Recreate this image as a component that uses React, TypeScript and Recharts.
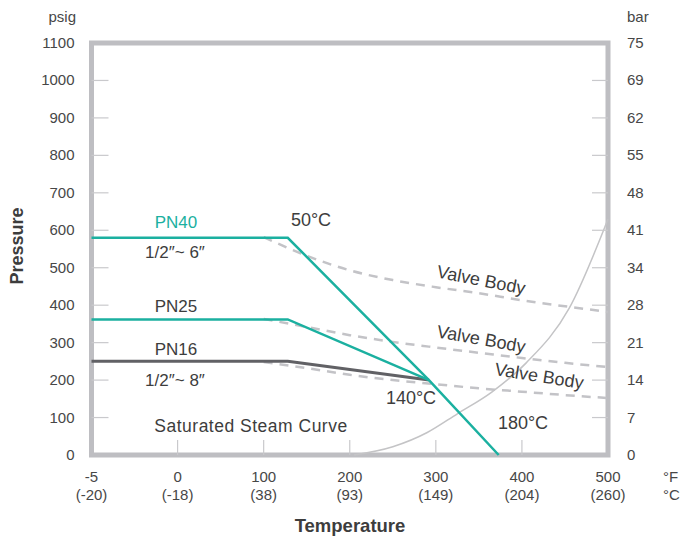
import { LineChart, Line, XAxis, YAxis, ReferenceArea } from "recharts";

// temperature axis (°F) and its °C sub-labels
const tempTicksF = [-5, 0, 100, 200, 300, 400, 500];
const tempTicksC = ["(-20)", "(-18)", "(38)", "(93)", "(149)", "(204)", "(260)"];
const psigTicks = [0, 100, 200, 300, 400, 500, 600, 700, 800, 900, 1000, 1100];
const barTicks = [0, 7, 14, 21, 28, 34, 41, 48, 55, 62, 69, 75];

// rating lines (°F, psig)
const pn40Temp = [-5, 128, 292, 373];
const pn40Psig = [580, 580, 200, 0];
const pn25Temp = [-5, 128, 292];
const pn25Psig = [362, 362, 200];
const pn16Temp = [-5, 128, 292];
const pn16Psig = [250, 250, 200];

// valve body limits (dashed)
const bodyTemp = [100, 150, 200, 250, 300, 350, 400, 450, 500];
const body40Psig = [582, 532, 493, 467, 448, 432, 413, 397, 382];
const body25Psig = [363, 342, 320, 302, 287, 273, 259, 246, 235];
const body16Psig = [248, 232, 214, 200, 189, 178, 169, 160, 152];

// saturated steam curve
const steamTemp = [205, 250, 290, 325, 365, 405, 455, 500];
const steamPsig = [0, 22, 60, 110, 168, 246, 392, 630];

// the -5 tick gets a full slot, the rest are evenly spaced by 100°F
const toPos = (f: number) => (f < 0 ? (f + 5) / 5 : 1 + f / 100);
const toPoints = (temps: number[], psig: number[]) =>
  temps.map((t, i) => ({ pos: toPos(t), p: psig[i] }));

const FONT = '"Liberation Sans", Arial, Helvetica, sans-serif';
const TEAL = "#1bb0a0";
const DARK = "#616165";
const DASH = "#c3c3c7";
const FRAME = "#bebec2";
const TICK = "#c9c9cc";
const TEXT = "#474747";

function LeftTick(props: any) {
  const { x, y, payload } = props;
  return (
    <g>
      {payload.value > 0 && payload.value < 1100 && (
        <line x1={x} x2={x + 17} y1={y} y2={y} stroke={TICK} strokeWidth={1.2} />
      )}
      <text x={x - 17} y={y} dy={5} textAnchor="end" fontSize={15} fill={TEXT} fontFamily={FONT}>
        {payload.value}
      </text>
    </g>
  );
}

function RightTick(props: any) {
  const { x, y, payload } = props;
  const i = psigTicks.indexOf(payload.value);
  return (
    <g>
      {i > 0 && i < psigTicks.length - 1 && (
        <line x1={x - 16} x2={x} y1={y} y2={y} stroke={TICK} strokeWidth={1.2} />
      )}
      <text x={x + 19} y={y} dy={5} textAnchor="start" fontSize={15} fill={TEXT} fontFamily={FONT}>
        {barTicks[i]}
      </text>
    </g>
  );
}

function BottomTick(props: any) {
  const { x, y, index } = props;
  return (
    <g>
      {index > 0 && index < tempTicksF.length - 1 && (
        <line x1={x} x2={x} y1={y} y2={y - 15} stroke={TICK} strokeWidth={1.2} />
      )}
      <text x={x} y={y + 27} textAnchor="middle" fontSize={15} fill={TEXT} fontFamily={FONT}>
        {tempTicksF[index]}
      </text>
      <text x={x} y={y + 45} textAnchor="middle" fontSize={15} fill={TEXT} fontFamily={FONT}>
        {tempTicksC[index]}
      </text>
    </g>
  );
}

function TopTick(props: any) {
  const { x, y, index } = props;
  if (index === 0 || index === tempTicksF.length - 1) return <g />;
  return <line x1={x} x2={x} y1={y} y2={y + 14} stroke={TICK} strokeWidth={1.2} />;
}

const labelStyle = { fontFamily: FONT, fontSize: 18, fill: "#3d3d3d" };

export default function App() {
  const xTicks = tempTicksF.map(toPos);
  const lines = [
    { key: "b40", data: toPoints(bodyTemp, body40Psig), color: DASH, width: 2.5, dash: "9 7", type: "monotone" },
    { key: "b25", data: toPoints(bodyTemp, body25Psig), color: DASH, width: 2.5, dash: "9 7", type: "monotone" },
    { key: "b16", data: toPoints(bodyTemp, body16Psig), color: DASH, width: 2.5, dash: "9 7", type: "monotone" },
    { key: "steam", data: toPoints(steamTemp, steamPsig), color: "#c4c4c6", width: 1.5, dash: undefined, type: "monotone" },
    { key: "pn16", data: toPoints(pn16Temp, pn16Psig), color: DARK, width: 3, dash: undefined, type: "linear" },
    { key: "pn25", data: toPoints(pn25Temp, pn25Psig), color: TEAL, width: 2.5, dash: undefined, type: "linear" },
    { key: "pn40", data: toPoints(pn40Temp, pn40Psig), color: TEAL, width: 2.5, dash: undefined, type: "linear" },
  ];

  return (
    <div style={{ position: "absolute", left: 0, top: 0, width: 683, height: 537, background: "#fff" }}>
      <LineChart width={683} height={537} margin={{ top: 43, right: 0, bottom: 0, left: 0 }}>
        <XAxis
          type="number"
          dataKey="pos"
          domain={[0, 6]}
          ticks={xTicks}
          height={82}
          axisLine={false}
          tickLine={false}
          tickSize={0}
          tickMargin={0}
          tick={(p: any) => <BottomTick {...p} />}
          interval={0}
        />
        <XAxis
          xAxisId="top"
          orientation="top"
          type="number"
          dataKey="pos"
          domain={[0, 6]}
          ticks={xTicks}
          height={0}
          axisLine={false}
          tickLine={false}
          tickSize={0}
          tickMargin={0}
          tick={(p: any) => <TopTick {...p} />}
          interval={0}
        />
        <YAxis
          yAxisId="psi"
          type="number"
          domain={[0, 1100]}
          ticks={psigTicks}
          width={91.5}
          axisLine={false}
          tickLine={false}
          tickSize={0}
          tickMargin={0}
          interval={0}
          tick={(p: any) => <LeftTick {...p} />}
        />
        <YAxis
          yAxisId="bar"
          orientation="right"
          type="number"
          domain={[0, 1100]}
          ticks={psigTicks}
          width={75}
          axisLine={false}
          tickLine={false}
          tickSize={0}
          tickMargin={0}
          interval={0}
          tick={(p: any) => <RightTick {...p} />}
        />
        {lines.map((l) => (
          <Line
            key={l.key}
            yAxisId="psi"
            data={l.data}
            dataKey="p"
            type={l.type as any}
            stroke={l.color}
            strokeWidth={l.width}
            strokeDasharray={l.dash}
            dot={false}
            activeDot={false}
            isAnimationActive={false}
          />
        ))}
        {/* same PN40 data on the bar axis, invisible, so the right axis renders */}
        <Line
          yAxisId="bar"
          data={toPoints(pn40Temp, pn40Psig)}
          dataKey="p"
          stroke="none"
          strokeWidth={0}
          dot={false}
          activeDot={false}
          isAnimationActive={false}
        />
        <ReferenceArea
          yAxisId="psi"
          x1={0}
          x2={6}
          y1={0}
          y2={1100}
          fill="none"
          fillOpacity={0}
          stroke={FRAME}
          strokeWidth={5}
          ifOverflow="visible"
        />
      </LineChart>

      <svg
        width={683}
        height={537}
        style={{ position: "absolute", left: 0, top: 0, pointerEvents: "none" }}
      >
        <text x={76} y={22} textAnchor="end" fontSize={15} fill={TEXT} fontFamily={FONT}>psig</text>
        <text x={627} y={22} fontSize={15} fill={TEXT} fontFamily={FONT}>bar</text>
        <text x={663} y={482} fontSize={15} fill={TEXT} fontFamily={FONT}>°F</text>
        <text x={663} y={500} fontSize={15} fill={TEXT} fontFamily={FONT}>°C</text>
        <text
          x={23}
          y={246}
          transform="rotate(-90 23 246)"
          textAnchor="middle"
          fontSize={18}
          fontWeight="bold"
          fill="#3d3d3d"
          fontFamily={FONT}
        >
          Pressure
        </text>
        <text x={350} y={532} textAnchor="middle" fontSize={18.5} fontWeight="bold" fill="#3d3d3d" fontFamily={FONT}>
          Temperature
        </text>

        <text x={176} y={228} textAnchor="middle" {...labelStyle} fontSize={17} fill={TEAL}>PN40</text>
        <text x={175} y={258} textAnchor="middle" {...labelStyle} fontSize={17}>1/2″~ 6″</text>
        <text x={176} y={312} textAnchor="middle" {...labelStyle} fontSize={17}>PN25</text>
        <text x={176} y={355} textAnchor="middle" {...labelStyle} fontSize={17}>PN16</text>
        <text x={175} y={386} textAnchor="middle" {...labelStyle} fontSize={17}>1/2″~ 8″</text>
        <text x={311} y={226} textAnchor="middle" {...labelStyle}>50°C</text>
        <text x={411} y={404} textAnchor="middle" {...labelStyle}>140°C</text>
        <text x={523} y={429} textAnchor="middle" {...labelStyle}>180°C</text>
        <text x={251} y={432} textAnchor="middle" {...labelStyle} fontSize={17.5} letterSpacing={0.5}>
          Saturated Steam Curve
        </text>
        <text x={481} y={286} textAnchor="middle" transform="rotate(11 481 281)" {...labelStyle}>Valve Body</text>
        <text x={481} y={345} textAnchor="middle" transform="rotate(10 481 340)" {...labelStyle}>Valve Body</text>
        <text x={539} y={382} textAnchor="middle" transform="rotate(9 539 377)" {...labelStyle}>Valve Body</text>
      </svg>
    </div>
  );
}
